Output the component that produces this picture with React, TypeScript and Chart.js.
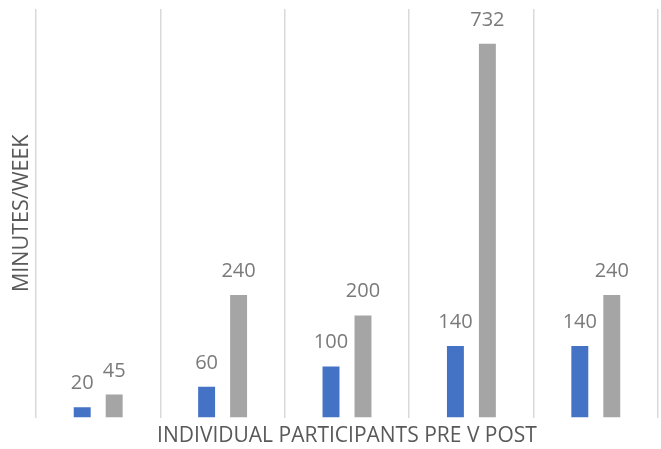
import React, { useEffect, useRef } from "react";
import { Chart, registerables } from "chart.js";

Chart.register(...registerables);

const categories = ["P1", "P2", "P3", "P4", "P5"];
const preValues = [20, 60, 100, 140, 140];
const postValues = [45, 240, 200, 732, 240];
const yMax = 800;
const xTitle = "INDIVIDUAL PARTICIPANTS PRE V POST";
const yTitle = "MINUTES/WEEK";

const FONT = "'Open Sans', sans-serif";

const labelPlugin = {
  id: "barLabels",
  afterDatasetsDraw(chart: any) {
    const ctx = chart.ctx;
    ctx.save();
    ctx.font = `20px ${FONT}`;
    ctx.fillStyle = "#7a7a7a";
    ctx.textAlign = "center";
    ctx.textBaseline = "alphabetic";
    chart.data.datasets.forEach((ds: any, i: number) => {
      const meta = chart.getDatasetMeta(i);
      meta.data.forEach((bar: any, j: number) => {
        ctx.fillText(String(ds.data[j]), bar.x, bar.y - 18);
      });
    });
    ctx.restore();
  },
};

export default function App() {
  const ref = useRef<HTMLCanvasElement>(null);
  useEffect(() => {
    if (!ref.current) return;
    const chart = new Chart(ref.current, {
      type: "bar",
      data: {
        labels: categories,
        datasets: [
          {
            label: "Pre",
            data: preValues,
            backgroundColor: "#4472C4",
            categoryPercentage: 0.514,
            barPercentage: 0.53,
          },
          {
            label: "Post",
            data: postValues,
            backgroundColor: "#A5A5A5",
            categoryPercentage: 0.514,
            barPercentage: 0.53,
          },
        ],
      },
      options: {
        animation: false,
        responsive: false,
        devicePixelRatio: 1,
        layout: { padding: { left: 0, right: 3, top: 9, bottom: 0 } },
        plugins: { legend: { display: false }, tooltip: { enabled: false } },
        scales: {
          x: {
            grid: { display: true, offset: true, color: "#d9d9d9", lineWidth: 1.5, drawTicks: false },
            border: { display: false },
            ticks: { display: false },
            title: {
              display: true,
              text: xTitle,
              color: "#595959",
              font: { family: FONT, size: 21 },
              padding: { top: 0, bottom: 0 },
            },
            afterFit(scale: any) {
              scale.height = 31.5;
            },
          },
          y: {
            min: 0,
            max: yMax,
            grid: { display: false },
            border: { display: false },
            ticks: { display: false },
            title: {
              display: true,
              text: yTitle,
              color: "#595959",
              font: { family: FONT, size: 21.5 },
              padding: { top: 9, bottom: 0 },
            },
            afterFit(scale: any) {
              scale.width = 36;
            },
          },
        },
      },
      plugins: [labelPlugin],
    });
    return () => chart.destroy();
  }, []);
  return (
    <div style={{ position: "fixed", left: 0, top: 0, width: 661, height: 449, background: "#fff" }}>
      <canvas ref={ref} width={661} height={449} style={{ width: 661, height: 449 }} />
    </div>
  );
}
